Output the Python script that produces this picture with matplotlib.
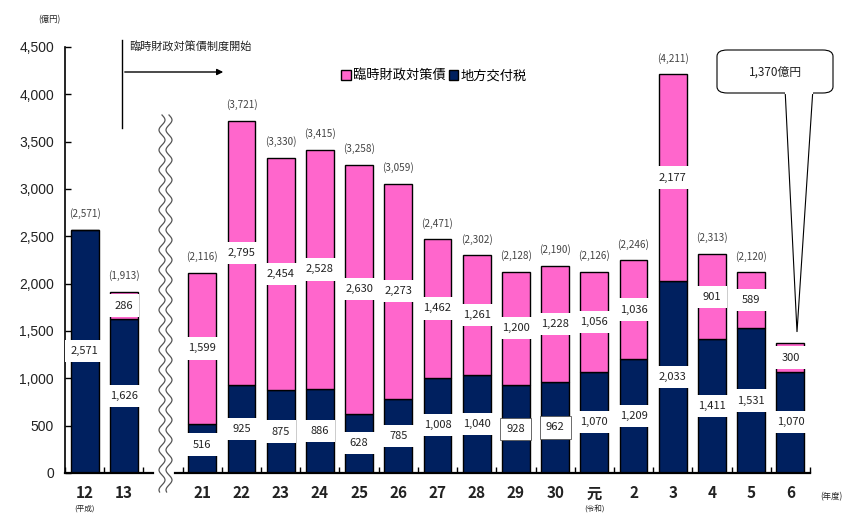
import numpy as np
import matplotlib
matplotlib.use("Agg")
import matplotlib.pyplot as plt
from matplotlib.patches import FancyBboxPatch, Polygon
from matplotlib.lines import Line2D

plt.rcParams['font.family'] = ['Noto Sans CJK JP', 'DejaVu Sans']

# ---- data ----
years = ['12', '13', '21', '22', '23', '24', '25', '26', '27', '28',
         '29', '30', '元', '2', '3', '4', '5', '6']
rinji = [0, 286, 1599, 2795, 2454, 2528, 2630, 2273, 1462, 1261,
         1200, 1228, 1056, 1036, 2177, 901, 589, 300]
koufu = [2571, 1626, 516, 925, 875, 886, 628, 785, 1008, 1040,
         928, 962, 1070, 1209, 2033, 1411, 1531, 1070]
# totals as printed above the bars (last year is shown in the callout)
totals = [2571, 1913, 2116, 3721, 3330, 3415, 3258, 3059, 2471, 2302,
          2128, 2190, 2126, 2246, 4211, 2313, 2120, None]
era_notes = {'12': '(平成)', '元': '(令和)'}
callout_text = '1,370億円'

PINK = '#FF66CC'
NAVY = '#00205F'

W, H = 858, 529
fig = plt.figure(figsize=(W / 100, H / 100), dpi=100)
ax = fig.add_axes([65 / W, 1 - 473 / H, (810 - 65) / W, (473 - 47) / H])


def fx(px):
    return px / W


def fy(py):
    return 1 - py / H


# positions: break between 13 and 21 takes one slot
xpos = np.array([0, 1] + list(range(3, 19)), dtype=float)
bw = 0.71

b1 = ax.bar(xpos, koufu, bw, color=NAVY, edgecolor='black', linewidth=1.0,
            label='地方交付税', zorder=2)
b2 = ax.bar(xpos, rinji, bw, bottom=koufu, color=PINK, edgecolor='black',
            linewidth=1.0, label='臨時財政対策債', zorder=2)

# value labels in white boxes
bordered = {'928', '962'}
for x, k, r, t in zip(xpos, koufu, rinji, totals):
    yk = max(k / 2, 300)
    s = f'{k:,}'
    ax.text(x, yk, s, ha='center', va='center', fontsize=8, color='#222222',
            zorder=5,
            bbox=dict(boxstyle='square,pad=0.55', fc='white',
                      ec='#555555' if s in bordered else 'none', lw=0.6))
    if r > 0:
        ax.text(x, k + r / 2, f'{r:,}', ha='center', va='center', fontsize=8,
                color='#222222', zorder=5,
                bbox=dict(boxstyle='square,pad=0.55', fc='white', ec='none'))
    if t is not None:
        ax.text(x, k + r + 170, f'({t:,})', ha='center', va='center',
                fontsize=7.2, color='#444444')

ax.set_xlim(-0.5, 18.5)
ax.set_ylim(0, 4500)
ax.set_yticks(np.arange(0, 4501, 500))
ax.set_yticklabels([f'{v:,}' for v in range(0, 4501, 500)],
                   fontsize=10, color='#222222', family='Liberation Sans')
ax.tick_params(axis='y', direction='in', length=4, width=1, pad=8)

ax.set_xticks(xpos)
ax.set_xticklabels(years, fontsize=11, fontweight='bold', color='#222222')
ax.tick_params(axis='x', which='major', length=0, pad=9)
ax.set_xticks([-0.5, 0.5, 1.5, 2.5] + [v + 0.5 for v in range(3, 19)], minor=True)
ax.tick_params(axis='x', which='minor', direction='in', length=4, width=1)

for sp in ['top', 'right', 'bottom']:
    ax.spines[sp].set_visible(False)
ax.spines['left'].set_linewidth(1.2)

# broken bottom axis
ax.plot([-0.5, 1.74], [0, 0], color='black', lw=1.6, clip_on=False, zorder=3)
ax.plot([2.3, 18.5], [0, 0], color='black', lw=1.6, clip_on=False, zorder=3)

for x, y in zip(xpos, years):
    if y in era_notes:
        ax.text(x, -380, era_notes[y], ha='center', va='center', fontsize=5.5,
                color='#222222')
ax.text(18.75, -250, '(年度)', ha='left', va='center', fontsize=6, color='#222222')
fig.text(fx(38), fy(20), '(億円)', fontsize=6, color='#222222', va='center')

# wavy break marks
yy = np.linspace(115, 492, 600)
for off in (0, 7):
    xx = 162 + off + 3 * np.sin(2 * np.pi * (yy - 115) / 20)
    fig.add_artist(Line2D(fx(xx), fy(yy), color='#555555', lw=0.9))

# scheme start annotation
fig.add_artist(Line2D([fx(122), fx(122)], [fy(40), fy(128)], color='black', lw=1))
ax.annotate('', xy=(fx(226), fy(72)), xytext=(fx(122), fy(72)),
            xycoords='figure fraction', textcoords='figure fraction',
            arrowprops=dict(arrowstyle='-|>', color='black', lw=1,
                            mutation_scale=9))
fig.text(fx(129), fy(47), '臨時財政対策債制度開始', fontsize=8, va='center',
         color='#222222')

# legend
fig.legend(handles=[b2, b1], loc='center', bbox_to_anchor=(fx(434), fy(76)),
           ncol=2, frameon=False, fontsize=9.5, handlelength=0.7,
           handleheight=0.7, handletextpad=0.15, columnspacing=0.3)

# callout
pointer = Polygon([(fx(785), fy(88)), (fx(797), fy(332)), (fx(813), fy(88))],
                  closed=True, fc='white', ec='black', lw=0.8,
                  transform=fig.transFigure)
fig.add_artist(pointer)
box = FancyBboxPatch((fx(717), fy(93)), fx(116), fy(50) - fy(93),
                     boxstyle='round,pad=0,rounding_size=0.012',
                     fc='white', ec='black', lw=0.8, transform=fig.transFigure)
fig.add_artist(box)
fig.add_artist(Line2D([fx(785.6), fx(812.4)], [fy(93), fy(93)], color='white',
                      lw=1.5))
fig.text(fx(775), fy(72), callout_text, ha='center', va='center', fontsize=8.5,
         color='#222222')

fig.savefig('out.png', dpi=100)
